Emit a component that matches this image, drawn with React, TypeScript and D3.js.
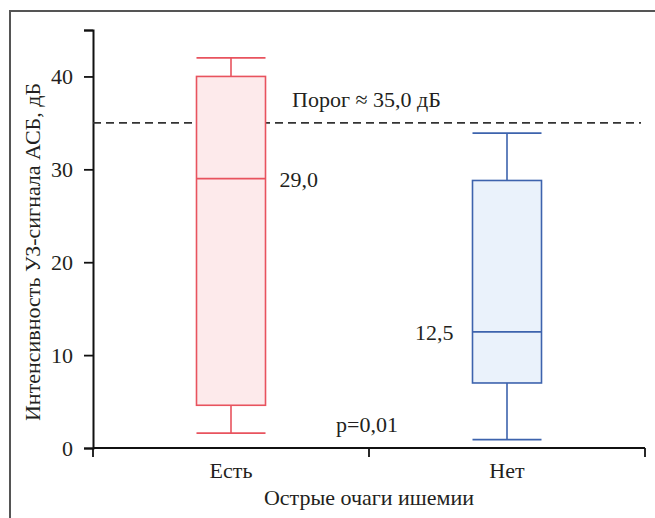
import React, { useRef, useEffect } from "react";
import * as d3 from "d3";

// groups and their box stats
const categories = ["Есть", "Нет"];
const whiskerLow = [1.6, 0.9];
const quartile1 = [4.6, 7.0];
const medians = [29.0, 12.5];
const quartile3 = [40.0, 28.8];
const whiskerHigh = [42.0, 33.9];
const medianLabels = ["29,0", "12,5"];
const yTicks = [0, 10, 20, 30, 40];
const threshold = 35;
const thresholdLabel = "Порог ≈ 35,0 дБ";
const pLabel = "p=0,01";

const strokeColors = ["#e8535e", "#3d63ad"];
const fillColors = ["#fdeaeb", "#eaf2fb"];

const App = () => {
  const ref = useRef<SVGSVGElement>(null);

  useEffect(() => {
    if (!ref.current) return;
    const svg = d3.select(ref.current);
    svg.selectAll("*").remove();

    const font = "'Liberation Serif', 'Times New Roman', serif";
    const fs = 22;
    const textColor = "#231f20";
    const margin = { left: 93, top: 30 };
    const width = 655;
    const height = 518;
    const plotRight = 645;
    const plotBottom = 448;

    // frame (left + top only, the rest is cut off)
    svg
      .append("path")
      .attr("d", `M10,${height} L10,11 L${width},11`)
      .attr("fill", "none")
      .attr("stroke", "#555")
      .attr("stroke-width", 2);

    const y = d3.scaleLinear().domain([0, 45]).range([plotBottom, margin.top]);
    const xBand = d3
      .scaleBand()
      .domain(categories)
      .range([margin.left, plotRight])
      .paddingInner(0)
      .paddingOuter(0);
    const boxW = 69;

    // y axis
    const yAxis = svg
      .append("g")
      .attr("transform", `translate(${margin.left},0)`)
      .call(
        d3
          .axisLeft(y)
          .tickValues([...yTicks, 45])
          .tickSize(9)
          .tickPadding(11)
          .tickFormat((d) => (d === 45 ? "" : String(d)))
      );
    yAxis.select(".domain").attr("stroke", "#111").attr("stroke-width", 2);
    yAxis.selectAll(".tick line").attr("stroke", "#111").attr("stroke-width", 1.8);
    yAxis
      .selectAll(".tick text")
      .attr("font-family", font)
      .attr("font-size", fs)
      .attr("fill", textColor);

    // x axis: ticks at group boundaries
    const xg = svg.append("g");
    xg.append("line")
      .attr("x1", margin.left)
      .attr("x2", plotRight)
      .attr("y1", plotBottom)
      .attr("y2", plotBottom)
      .attr("stroke", "#111")
      .attr("stroke-width", 2);
    const bounds = [margin.left, ...categories.map((c) => (xBand(c) as number) + xBand.bandwidth())];
    xg.selectAll("line.tk")
      .data(bounds)
      .join("line")
      .attr("class", "tk")
      .attr("x1", (d) => d)
      .attr("x2", (d) => d)
      .attr("y1", plotBottom)
      .attr("y2", plotBottom + 9)
      .attr("stroke", "#111")
      .attr("stroke-width", 1.8);
    xg.selectAll("text")
      .data(categories)
      .join("text")
      .attr("x", (d) => (xBand(d) as number) + xBand.bandwidth() / 2)
      .attr("y", 478)
      .attr("text-anchor", "middle")
      .attr("font-family", font)
      .attr("font-size", fs)
      .attr("fill", textColor)
      .text((d) => d);

    // axis titles
    svg
      .append("text")
      .attr("x", (margin.left + plotRight) / 2)
      .attr("y", 505)
      .attr("text-anchor", "middle")
      .attr("font-family", font)
      .attr("font-size", fs)
      .attr("fill", textColor)
      .text("Острые очаги ишемии");
    svg
      .append("text")
      .attr("transform", `translate(40,252) rotate(-90)`)
      .attr("text-anchor", "middle")
      .attr("font-family", font)
      .attr("font-size", fs)
      .attr("fill", textColor)
      .text("Интенсивность УЗ-сигнала АСБ, дБ");

    // threshold
    svg
      .append("line")
      .attr("x1", margin.left)
      .attr("x2", 641)
      .attr("y1", y(threshold))
      .attr("y2", y(threshold))
      .attr("stroke", "#333")
      .attr("stroke-width", 1.8)
      .attr("stroke-dasharray", "8,5");
    svg
      .append("text")
      .attr("x", 292)
      .attr("y", y(threshold) - 16)
      .attr("font-family", font)
      .attr("font-size", fs)
      .attr("fill", textColor)
      .text(thresholdLabel);

    // boxes
    categories.forEach((c, i) => {
      const cx = (xBand(c) as number) + xBand.bandwidth() / 2;
      const g = svg.append("g");
      const st = strokeColors[i];
      g.append("line")
        .attr("x1", cx)
        .attr("x2", cx)
        .attr("y1", y(whiskerLow[i]))
        .attr("y2", y(whiskerHigh[i]))
        .attr("stroke", st)
        .attr("stroke-width", 1.6);
      [whiskerLow[i], whiskerHigh[i]].forEach((v) => {
        g.append("line")
          .attr("x1", cx - boxW / 2)
          .attr("x2", cx + boxW / 2)
          .attr("y1", y(v))
          .attr("y2", y(v))
          .attr("stroke", st)
          .attr("stroke-width", 1.6);
      });
      g.append("rect")
        .attr("x", cx - boxW / 2)
        .attr("width", boxW)
        .attr("y", y(quartile3[i]))
        .attr("height", y(quartile1[i]) - y(quartile3[i]))
        .attr("fill", fillColors[i])
        .attr("stroke", st)
        .attr("stroke-width", 1.6);
      g.append("line")
        .attr("x1", cx - boxW / 2)
        .attr("x2", cx + boxW / 2)
        .attr("y1", y(medians[i]))
        .attr("y2", y(medians[i]))
        .attr("stroke", st)
        .attr("stroke-width", 1.6);
      g.append("text")
        .attr("x", i === 0 ? cx + boxW / 2 + 14 : cx - boxW / 2 - 19)
        .attr("y", y(medians[i]) + 8)
        .attr("text-anchor", i === 0 ? "start" : "end")
        .attr("font-family", font)
        .attr("font-size", fs)
        .attr("fill", textColor)
        .text(medianLabels[i]);
    });

    svg
      .append("text")
      .attr("x", 336)
      .attr("y", 432)
      .attr("font-family", font)
      .attr("font-size", fs)
      .attr("fill", textColor)
      .text(pLabel);
  }, []);

  return (
    <svg
      ref={ref}
      width={655}
      height={518}
      style={{ position: "absolute", left: 0, top: 0, background: "#fff" }}
    />
  );
};

export default App;
